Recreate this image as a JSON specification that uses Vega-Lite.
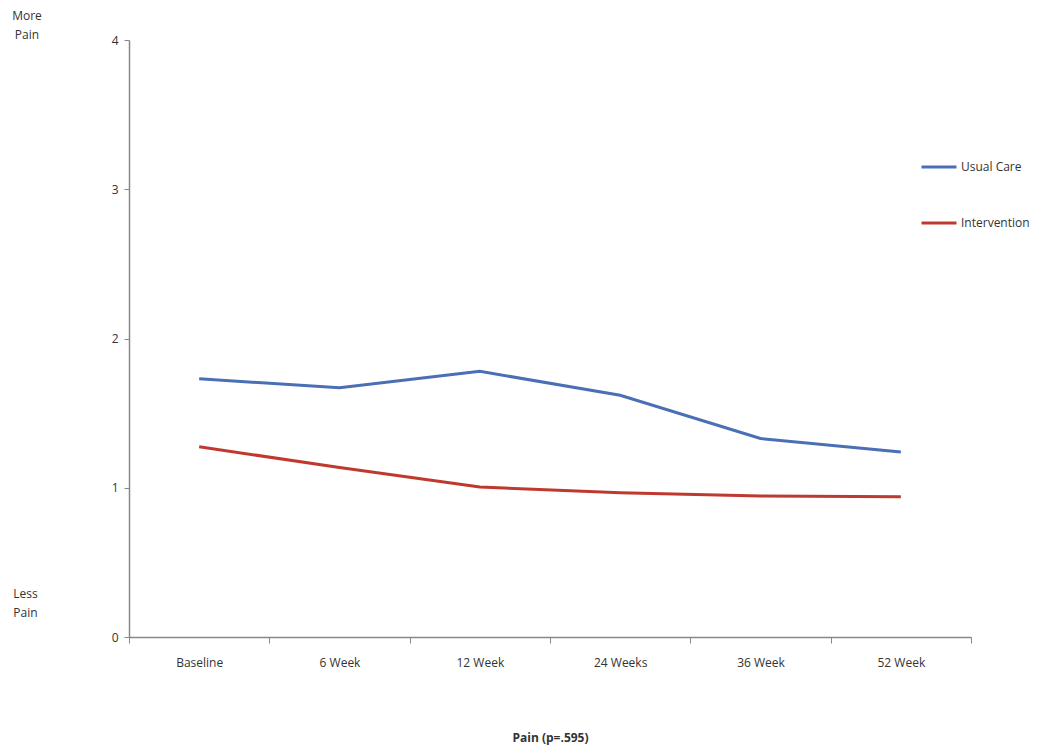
{
  "$schema": "https://vega.github.io/schema/vega-lite/v6.json",
  "autosize": {"type": "none"},
  "padding": {"left": 129, "top": 40, "right": 79, "bottom": 116},
  "width": 842,
  "height": 597,
  "background": "white",
  "config": {
    "view": {"stroke": null},
    "font": "Open Sans",
    "title": {"font": "Open Sans"}
  },
  "title": {
    "text": ["More", "Pain"],
    "anchor": "start",
    "frame": "group",
    "dx": -102,
    "offset": -8,
    "fontSize": 12,
    "fontWeight": "normal",
    "color": "#333333",
    "lineHeight": 19,
    "align": "center"
  },
  "data": {
    "values": [
      {"time": "Baseline", "group": "Usual Care", "pain": 1.73},
      {"time": "6 Week", "group": "Usual Care", "pain": 1.67},
      {"time": "12 Week", "group": "Usual Care", "pain": 1.78},
      {"time": "24 Weeks", "group": "Usual Care", "pain": 1.62},
      {"time": "36 Week", "group": "Usual Care", "pain": 1.33},
      {"time": "52 Week", "group": "Usual Care", "pain": 1.24},
      {"time": "Baseline", "group": "Intervention", "pain": 1.275},
      {"time": "6 Week", "group": "Intervention", "pain": 1.135},
      {"time": "12 Week", "group": "Intervention", "pain": 1.005},
      {"time": "24 Weeks", "group": "Intervention", "pain": 0.967},
      {"time": "36 Week", "group": "Intervention", "pain": 0.945},
      {"time": "52 Week", "group": "Intervention", "pain": 0.94}
    ]
  },
  "mark": {"type": "line", "strokeWidth": 3},
  "encoding": {
    "x": {
      "field": "time",
      "type": "nominal",
      "sort": ["Baseline", "6 Week", "12 Week", "24 Weeks", "36 Week", "52 Week"],
      "scale": {"type": "band", "paddingInner": 0, "paddingOuter": 0},
      "bandPosition": 0.5,
      "axis": {
        "title": "Pain (p=.595)",
        "titleFontSize": 12,
        "titleFontWeight": "bold",
        "titleColor": "#333333",
        "titlePadding": 64,
        "labelAngle": 0,
        "labelFontSize": 12,
        "labelColor": "#333333",
        "labelPadding": 14,
        "tickBand": "extent",
        "tickSize": 6,
        "domainColor": "#888888",
        "tickColor": "#888888",
        "domainWidth": 1.5,
        "grid": false
      }
    },
    "y": {
      "field": "pain",
      "type": "quantitative",
      "scale": {"domain": [0, 4], "nice": false},
      "axis": {
        "values": [0, 1, 2, 3, 4],
        "format": "d",
        "title": ["Less", "Pain"],
        "titleAngle": 0,
        "titleAlign": "center",
        "titleBaseline": "top",
        "titleX": -104,
        "titleY": 548,
        "titleFontSize": 12,
        "titleFontWeight": "normal",
        "titleColor": "#333333",
        "titleLineHeight": 19,
        "labelFontSize": 12,
        "labelColor": "#333333",
        "labelPadding": 6,
        "tickSize": 5,
        "domainColor": "#888888",
        "tickColor": "#888888",
        "domainWidth": 1.5,
        "grid": false
      }
    },
    "color": {
      "field": "group",
      "type": "nominal",
      "scale": {"domain": ["Usual Care", "Intervention"], "range": ["#4A6FB5", "#C0392F"]},
      "legend": {
        "title": null,
        "orient": "none",
        "legendX": 791,
        "legendY": 108,
        "symbolType": "stroke",
        "symbolSize": 1225,
        "symbolStrokeWidth": 3,
        "labelFontSize": 12,
        "labelColor": "#333333",
        "labelOffset": 3,
        "rowPadding": 31
      }
    }
  }
}
